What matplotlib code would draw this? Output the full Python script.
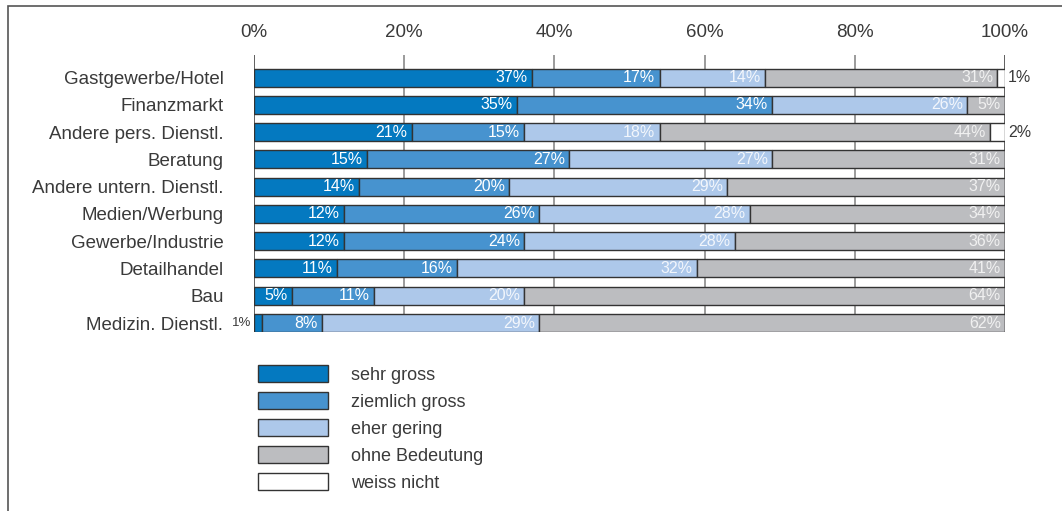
import numpy as np
import matplotlib.pyplot as plt
from matplotlib.patches import Patch, Rectangle

plt.rcParams["font.family"] = ["Liberation Sans", "DejaVu Sans"]

# Branchen (oben nach unten)
branchen = [
    "Gastgewerbe/Hotel",
    "Finanzmarkt",
    "Andere pers. Dienstl.",
    "Beratung",
    "Andere untern. Dienstl.",
    "Medien/Werbung",
    "Gewerbe/Industrie",
    "Detailhandel",
    "Bau",
    "Medizin. Dienstl.",
]

# Anteile in Prozent
sehr_gross = [37, 35, 21, 15, 14, 12, 12, 11, 5, 1]
ziemlich_gross = [17, 34, 15, 27, 20, 26, 24, 16, 11, 8]
eher_gering = [14, 26, 18, 27, 29, 28, 28, 32, 20, 29]
ohne_bedeutung = [31, 5, 44, 31, 37, 34, 36, 41, 64, 62]
weiss_nicht = [1, 0, 2, 0, 0, 0, 0, 0, 0, 0]

kategorien = ["sehr gross", "ziemlich gross", "eher gering", "ohne Bedeutung", "weiss nicht"]
farben = ["#0479c0", "#4793cf", "#adc8ea", "#bcbdc0", "#ffffff"]
textfarben = ["#ffffff", "#ffffff", "#f2f6fc", "#f0f0f0", "#333333"]

serien = [sehr_gross, ziemlich_gross, eher_gering, ohne_bedeutung, weiss_nicht]
tick_werte = [0, 20, 40, 60, 80, 100]

W, H = 1062, 511
fig = plt.figure(figsize=(W / 100, H / 100), dpi=100)
ax = fig.add_axes([254 / W, 1 - 332 / H, 751 / W, 277 / H])

# Rahmen um die Grafik
fig.patches.append(Rectangle((8 / W, -0.1), 1.2, 1.1 - 6 / H, transform=fig.transFigure,
                             fill=False, edgecolor="#555555", lw=1.2))

y = np.arange(len(branchen))
links = np.zeros(len(branchen))
for k, werte in enumerate(serien):
    werte = np.array(werte, dtype=float)
    ax.barh(y, werte, left=links, height=0.66, color=farben[k],
            edgecolor="#333333", lw=1, zorder=3)
    for i, v in enumerate(werte):
        if v >= 3:
            ax.annotate(f"{int(v)}%", xy=(links[i] + v, y[i]), xytext=(-3, 0),
                        textcoords="offset points", ha="right", va="center",
                        fontsize=11.5, color=textfarben[k], zorder=4)
        elif v > 0 and k == 0:
            ax.annotate(f"{int(v)}%", xy=(0, y[i]), xytext=(-2, 0),
                        textcoords="offset points", ha="right", va="center",
                        fontsize=9.5, color="#3a3a3a")
        elif v > 0:
            ax.annotate(f"{int(v)}%", xy=(100, y[i]), xytext=(2, 0),
                        textcoords="offset points", ha="left", va="center",
                        fontsize=11.5, color="#3a3a3a")
    links += werte

# Gitterlinien
for t in tick_werte[1:-1]:
    ax.axvline(t, color="#8a8a8a", lw=1.2, zorder=1)
ax.axvline(0, color="#444444", lw=1.2, zorder=2)
ax.axvline(100, color="#444444", lw=1.2, zorder=2)

ax.set_xlim(0, 100)
ax.set_ylim(9.33, -0.83)
ax.set_xticks(tick_werte, [f"{t}%" for t in tick_werte])
ax.set_yticks(y, branchen)
ax.tick_params(axis="x", top=True, labeltop=True, bottom=False, labelbottom=False,
               length=0, pad=10, labelsize=13.5, labelcolor="#3a3a3a")
ax.tick_params(axis="y", length=0, pad=22, labelsize=13.5, labelcolor="#3a3a3a")
for s in ax.spines.values():
    s.set_visible(False)

# Legende
handles = [Patch(facecolor=farben[k], edgecolor="#333333", lw=1) for k in range(len(kategorien))]
fig.legend(handles, kategorien, loc="upper left", bbox_to_anchor=(258 / W, 1 - 365 / H),
           frameon=False, fontsize=13, handlelength=3.9, handleheight=1.1,
           labelspacing=0.45, handletextpad=1.25, borderpad=0, borderaxespad=0,
           labelcolor="#3a3a3a")

fig.savefig("out.png", dpi=100)
